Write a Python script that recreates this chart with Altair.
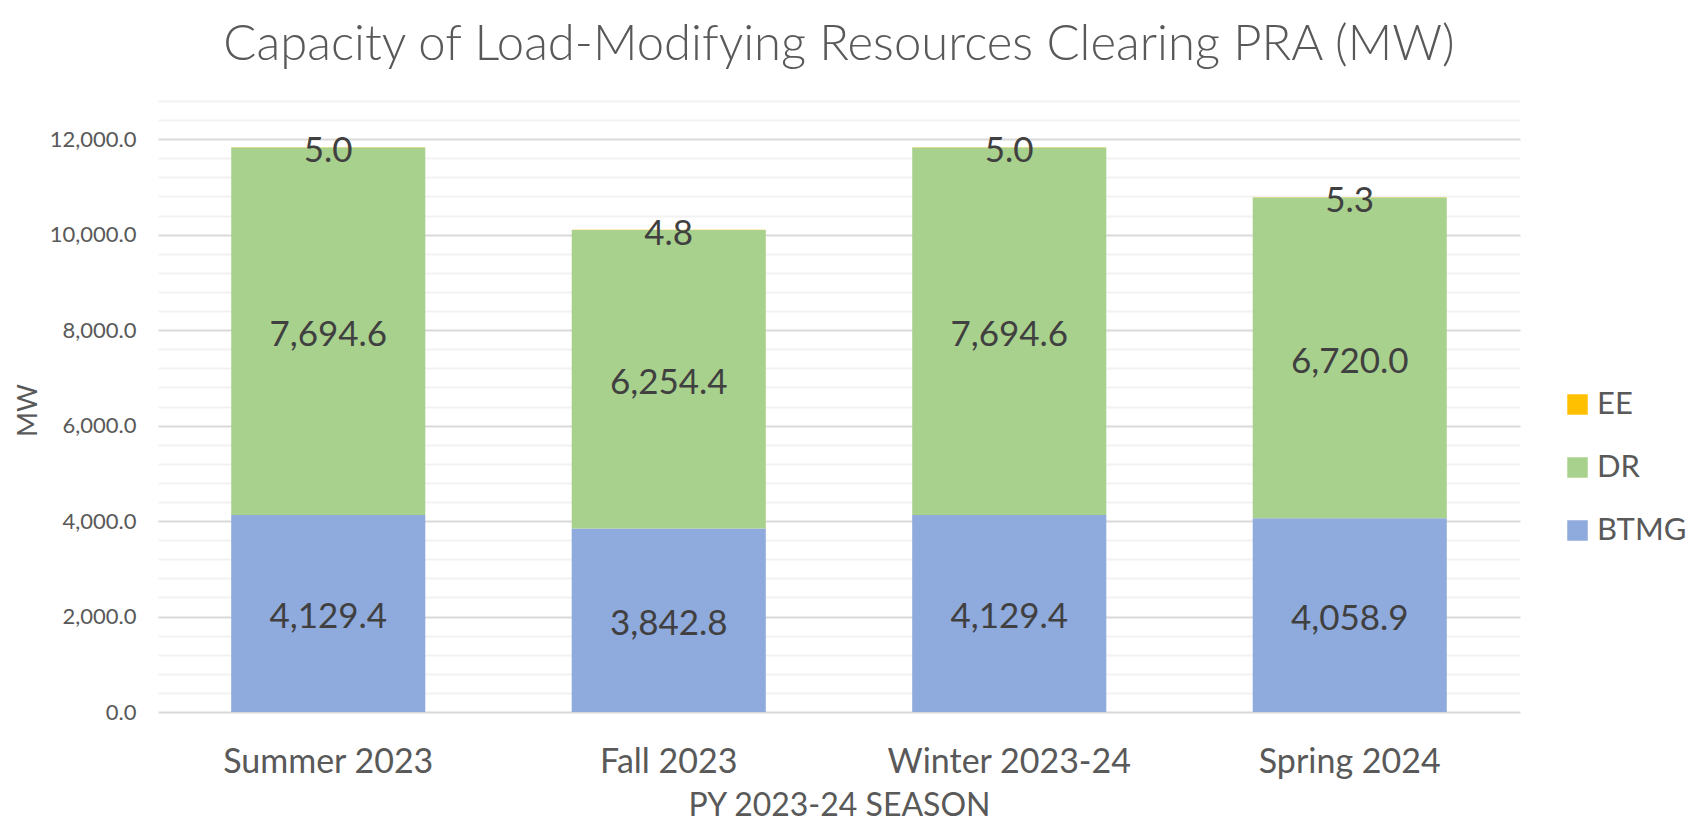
import altair as alt
import pandas as pd

seasons = ["Summer 2023", "Fall 2023", "Winter 2023-24", "Spring 2024"]
btmg = [4129.4, 3842.8, 4129.4, 4058.9]
dr = [7694.6, 6254.4, 7694.6, 6720.0]
ee = [5.0, 4.8, 5.0, 5.3]

series_names = ["EE", "DR", "BTMG"]
series_colors = ["#FFC000", "#A9D18E", "#8FAADC"]
stack_order = {"BTMG": 0, "DR": 1, "EE": 2}

y_ticks = [0, 400, 800, 1200, 1600, 2000, 2400, 2800, 3200, 3600, 4000, 4400, 4800,
           5200, 5600, 6000, 6400, 6800, 7200, 7600, 8000, 8400, 8800, 9200, 9600,
           10000, 10400, 10800, 11200, 11600, 12000, 12400, 12800]

rows = []
for name, vals in (("BTMG", btmg), ("DR", dr), ("EE", ee)):
    for s, v in zip(seasons, vals):
        rows.append({"season": s, "series": name, "value": v, "order": stack_order[name]})
df = pd.DataFrame(rows)

FONT = "Lato"
GREY = "#595959"

base = alt.Chart(df).transform_stack(
    stack="value",
    groupby=["season"],
    sort=[alt.SortField("order", order="ascending")],
    as_=["y0", "y1"],
).transform_calculate(mid="(datum.y0 + datum.y1) / 2")

x_enc = alt.X(
    "season:N",
    sort=seasons,
    scale=alt.Scale(paddingInner=0.43, paddingOuter=0.215),
    axis=alt.Axis(
        title="PY 2023-24 SEASON",
        labelAngle=0,
        labelFont=FONT,
        labelFontSize=34,
        labelColor=GREY,
        labelBaseline="alphabetic",
        labelPadding=60,
        labelLimit=0,
        ticks=False,
        domain=False,
        grid=False,
        titleFont=FONT,
        titleFontSize=32,
        titleFontWeight="normal",
        titleColor=GREY,
        titleBaseline="alphabetic",
        titleY=103,
    ),
)

bars = base.mark_bar().encode(
    x=x_enc,
    y=alt.Y(
        "y0:Q",
        scale=alt.Scale(domain=[0, 12800], nice=False),
        axis=alt.Axis(
            title="MW",
            values=y_ticks,
            tickCount=60,
            labelExpr="datum.value % 2000 === 0 ? format(datum.value, ',.1f') : ''",
            labelFont=FONT,
            labelFontSize=22,
            labelColor=GREY,
            labelPadding=22,
            labelOverlap=False,
            ticks=False,
            domain=False,
            grid=True,
            gridColor={"condition": {"test": "datum.value % 2000 === 0", "value": "#D9D9D9"}, "value": "#F2F2F2"},
            gridWidth=2,
            titleFont=FONT,
            titleFontSize=27,
            titleFontWeight="normal",
            titleColor=GREY,
            titleAngle=-90,
            titleBaseline="alphabetic",
            titleAlign="center",
            titleX=-122,
            titleY=309,
        ),
    ),
    y2="y1:Q",
    color=alt.Color(
        "series:N",
        scale=alt.Scale(domain=series_names, range=series_colors),
        legend=alt.Legend(
            title=None,
            orient="none",
            legendX=1404,
            legendY=288,
            symbolType="square",
            symbolSize=420,
            symbolStrokeWidth=0,
            symbolOpacity=1,
            labelFont=FONT,
            labelFontSize=31,
            labelColor=GREY,
            labelOffset=4,
            rowPadding=31,
            padding=0,
        ),
    ),
)

labels = base.mark_text(
    font=FONT, fontSize=35, color="#404040", baseline="middle", align="center", dy=4
).encode(
    x=alt.X("season:N", sort=seasons),
    y=alt.Y("mid:Q"),
    text=alt.Text("value:Q", format=",.1f"),
)

chart = alt.layer(bars, labels).properties(
    width=1362,
    height=611,
    autosize=alt.AutoSizeParams(type="none"),
    padding={"left": 150, "top": 93, "right": 180, "bottom": 110},
    title=alt.TitleParams(
        "Capacity of Load-Modifying Resources Clearing PRA (MW)",
        font=FONT,
        fontSize=49,
        fontWeight=300,
        color=GREY,
        anchor="middle",
        frame="group",
        offset=20,
    ),
).configure_view(stroke=None)

chart.save("out.html", embed_options={"renderer": "svg", "actions": False})
